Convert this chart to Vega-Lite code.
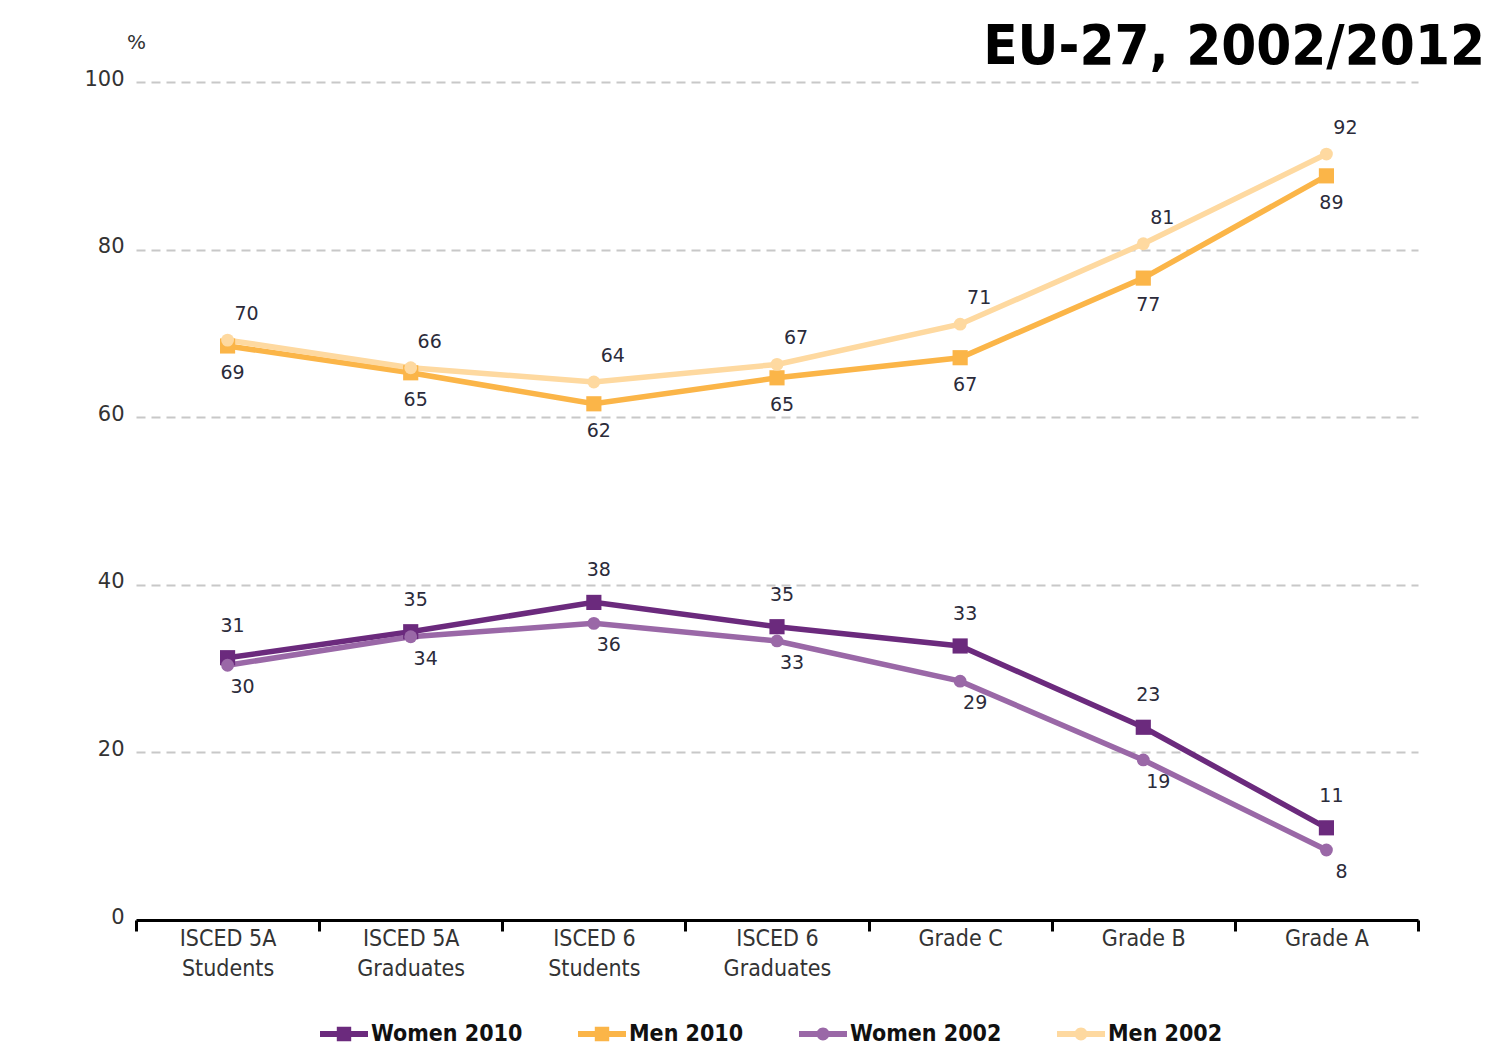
{
  "$schema": "https://vega.github.io/schema/vega-lite/v6.json",
  "autosize": "none",
  "width": 1282,
  "height": 838,
  "padding": {"left": 136, "top": 82, "right": 93, "bottom": 141},
  "background": "white",
  "title": {
    "text": "EU-27, 2002/2012",
    "anchor": "end",
    "frame": "group",
    "dx": 67,
    "dy": 88,
    "font": "DejaVu Sans Condensed",
    "fontWeight": "bold",
    "fontSize": 56,
    "color": "#000000",
    "baseline": "alphabetic",
    "offset": 0
  },
  "data": {
    "values": [
      {"cat": "ISCED 5A|Students", "series": "Women 2010", "value": 31.3, "label": "31"},
      {"cat": "ISCED 5A|Graduates", "series": "Women 2010", "value": 34.4, "label": "35"},
      {"cat": "ISCED 6|Students", "series": "Women 2010", "value": 37.9, "label": "38"},
      {"cat": "ISCED 6|Graduates", "series": "Women 2010", "value": 35.0, "label": "35"},
      {"cat": "Grade C", "series": "Women 2010", "value": 32.7, "label": "33"},
      {"cat": "Grade B", "series": "Women 2010", "value": 23.0, "label": "23"},
      {"cat": "Grade A", "series": "Women 2010", "value": 11.0, "label": "11"},
      {"cat": "ISCED 5A|Students", "series": "Men 2010", "value": 68.5, "label": "69"},
      {"cat": "ISCED 5A|Graduates", "series": "Men 2010", "value": 65.3, "label": "65"},
      {"cat": "ISCED 6|Students", "series": "Men 2010", "value": 61.6, "label": "62"},
      {"cat": "ISCED 6|Graduates", "series": "Men 2010", "value": 64.7, "label": "65"},
      {"cat": "Grade C", "series": "Men 2010", "value": 67.1, "label": "67"},
      {"cat": "Grade B", "series": "Men 2010", "value": 76.6, "label": "77"},
      {"cat": "Grade A", "series": "Men 2010", "value": 88.8, "label": "89"},
      {"cat": "ISCED 5A|Students", "series": "Women 2002", "value": 30.4, "label": "30"},
      {"cat": "ISCED 5A|Graduates", "series": "Women 2002", "value": 33.8, "label": "34"},
      {"cat": "ISCED 6|Students", "series": "Women 2002", "value": 35.4, "label": "36"},
      {"cat": "ISCED 6|Graduates", "series": "Women 2002", "value": 33.3, "label": "33"},
      {"cat": "Grade C", "series": "Women 2002", "value": 28.5, "label": "29"},
      {"cat": "Grade B", "series": "Women 2002", "value": 19.1, "label": "19"},
      {"cat": "Grade A", "series": "Women 2002", "value": 8.35, "label": "8"},
      {"cat": "ISCED 5A|Students", "series": "Men 2002", "value": 69.2, "label": "70"},
      {"cat": "ISCED 5A|Graduates", "series": "Men 2002", "value": 65.9, "label": "66"},
      {"cat": "ISCED 6|Students", "series": "Men 2002", "value": 64.2, "label": "64"},
      {"cat": "ISCED 6|Graduates", "series": "Men 2002", "value": 66.3, "label": "67"},
      {"cat": "Grade C", "series": "Men 2002", "value": 71.1, "label": "71"},
      {"cat": "Grade B", "series": "Men 2002", "value": 80.7, "label": "81"},
      {"cat": "Grade A", "series": "Men 2002", "value": 91.4, "label": "92"}
    ]
  },
  "encoding": {
    "x": {
      "field": "cat",
      "type": "nominal",
      "sort": ["ISCED 5A|Students", "ISCED 5A|Graduates", "ISCED 6|Students", "ISCED 6|Graduates", "Grade C", "Grade B", "Grade A"],
      "scale": {"type": "band", "paddingInner": 0, "paddingOuter": 0},
      "axis": {
        "title": null,
        "labelAngle": 0,
        "labelExpr": "split(datum.label, '|')",
        "labelFont": "DejaVu Sans Condensed",
        "labelFontSize": 23,
        "labelColor": "#333333",
        "labelLineHeight": 30,
        "labelPadding": -4,
        "labelBaseline": "top",
        "domainColor": "#000000",
        "domainWidth": 3,
        "tickColor": "#000000",
        "tickWidth": 3,
        "tickSize": 11,
        "tickBand": "extent",
        "grid": false
      }
    },
    "y": {
      "field": "value",
      "type": "quantitative",
      "scale": {"domain": [0, 100], "nice": false},
      "axis": {
        "title": "%",
        "titleAngle": 0,
        "titleX": 0,
        "titleY": -40,
        "titleAlign": "center",
        "titleBaseline": "middle",
        "titleFont": "DejaVu Sans",
        "titleFontSize": 20,
        "titleFontWeight": "normal",
        "titleColor": "#333333",
        "values": [0, 20, 40, 60, 80, 100],
        "labelFont": "DejaVu Sans",
        "labelFontSize": 21,
        "labelColor": "#333333",
        "labelPadding": 12,
        "labelOffset": -3,
        "domain": false,
        "ticks": false,
        "grid": true,
        "gridColor": "#c8c8c8",
        "gridWidth": 2,
        "gridDash": [9, 6]
      }
    },
    "color": {
      "field": "series",
      "type": "nominal",
      "scale": {
        "domain": ["Women 2010", "Men 2010", "Women 2002", "Men 2002"],
        "range": ["#6b2a7d", "#fbb548", "#9a68a7", "#fed9a0"]
      },
      "legend": null
    }
  },
  "layer": [
    {
      "mark": {"type": "line", "strokeWidth": 5.5},
      "encoding": {
        "detail": {"field": "series"},
        "color": {
          "field": "series",
          "type": "nominal",
          "legend": {
            "title": null,
            "orient": "none",
            "direction": "horizontal",
            "legendX": 184,
            "legendY": 928,
            "symbolSize": 2304,
            "symbolStrokeWidth": 0,
            "labelFont": "DejaVu Sans Condensed",
            "labelFontWeight": "bold",
            "labelFontSize": 23,
            "labelColor": "#111111",
            "labelOffset": 3,
            "columnPadding": 55,
            "labelLimit": 300,
            "encode": {
              "symbols": {
                "update": {
                  "shape": {"signal": "indexof(datum.value, '2010') >= 0 ? 'M-1,-0.12 L1,-0.12 L1,0.12 L-1,0.12 Z M-0.3,-0.3 L0.3,-0.3 L0.3,0.3 L-0.3,0.3 Z' : 'M-1,-0.12 L1,-0.12 L1,0.12 L-1,0.12 Z M0.27,0 A0.27,0.27 0 1,1 -0.27,0 A0.27,0.27 0 1,1 0.27,0 Z'"},
                  "fill": {"signal": "scale('color', datum.value)"},
                  "stroke": {"value": "transparent"},
                  "strokeWidth": {"value": 0},
                  "opacity": {"value": 1}
                }
              }
            }
          }
        }
      }
    },
    {
      "transform": [{"filter": "indexof(datum.series, '2010') >= 0"}],
      "mark": {"type": "point", "shape": "square", "filled": true, "size": 230, "opacity": 1}
    },
    {
      "transform": [{"filter": "indexof(datum.series, '2002') >= 0"}],
      "mark": {"type": "point", "shape": "circle", "filled": true, "size": 165, "opacity": 1}
    },
    {
      "transform": [{"filter": "datum.series == 'Men 2002'"}],
      "mark": {"type": "text", "dx": 19, "dy": -26, "font": "DejaVu Sans", "fontSize": 19, "align": "center", "baseline": "middle"},
      "encoding": {"text": {"field": "label"}, "color": {"value": "#2b2b3a"}}
    },
    {
      "transform": [{"filter": "datum.series == 'Men 2010'"}],
      "mark": {"type": "text", "dx": 5, "dy": 27, "font": "DejaVu Sans", "fontSize": 19, "align": "center", "baseline": "middle"},
      "encoding": {"text": {"field": "label"}, "color": {"value": "#2b2b3a"}}
    },
    {
      "transform": [{"filter": "datum.series == 'Women 2010'"}],
      "mark": {"type": "text", "dx": 5, "dy": -32, "font": "DejaVu Sans", "fontSize": 19, "align": "center", "baseline": "middle"},
      "encoding": {"text": {"field": "label"}, "color": {"value": "#2b2b3a"}}
    },
    {
      "transform": [{"filter": "datum.series == 'Women 2002'"}],
      "mark": {"type": "text", "dx": 15, "dy": 22, "font": "DejaVu Sans", "fontSize": 19, "align": "center", "baseline": "middle"},
      "encoding": {"text": {"field": "label"}, "color": {"value": "#2b2b3a"}}
    }
  ],
  "config": {
    "view": {"stroke": null}
  }
}
